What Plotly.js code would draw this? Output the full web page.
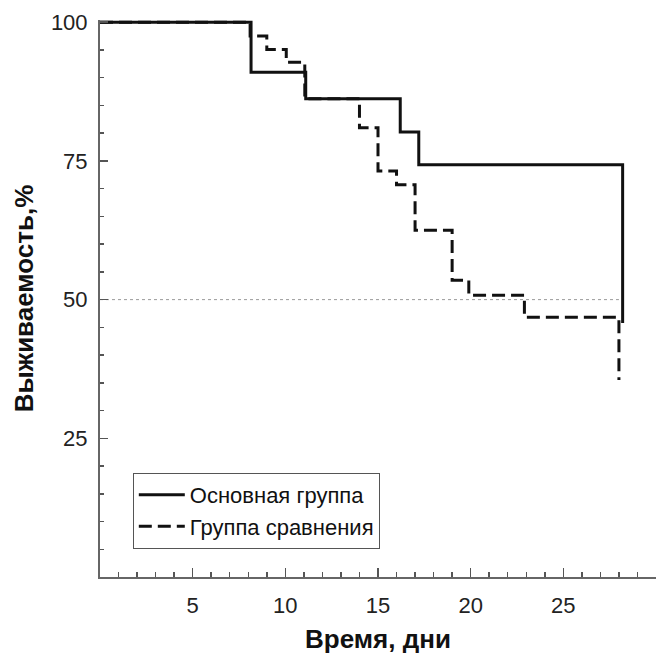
<!DOCTYPE html>
<html>
<head>
<meta charset="utf-8">
<script src="https://cdn.plot.ly/plotly-3.0.1.min.js"></script>
<style>html,body{margin:0;padding:0;background:#fff;}#chart{width:657px;height:656px;}</style>
</head>
<body>
<div id="chart"></div>
<script>
// Data (Kaplan-Meier style step curves)
const mainDays = [0, 8.15, 11.1, 16.2, 17.2, 28.2];
const mainSurv = [100, 91.0, 86.2, 80.2, 74.3, 45.8];
const compDays = [0, 8.1, 9.0, 10.05, 11.05, 14.0, 15.0, 16.0, 17.0, 19.0, 19.9, 22.9, 28.0];
const compSurv = [100, 97.5, 95.1, 92.8, 86.2, 81.0, 73.2, 70.7, 62.5, 53.5, 50.8, 46.8, 35.5];
const refDays = [0, 28];
const refSurv = [50, 50];
const xTickVals = [5, 10, 15, 20, 25];
const yTickVals = [25, 50, 75, 100];
const seriesNames = ['Основная группа', 'Группа сравнения'];

const traces = [
  {x: refDays, y: refSurv, mode: 'lines', line: {color: '#9a9a9a', width: 1, dash: 'dot'}, showlegend: false, hoverinfo: 'skip'},
  {x: compDays, y: compSurv, name: seriesNames[1], mode: 'lines', line: {shape: 'hv', color: '#111', width: 3, dash: '13px,6px'}},
  {x: mainDays, y: mainSurv, name: seriesNames[0], mode: 'lines', line: {shape: 'hv', color: '#111', width: 3}}
];

const tickFont = {family: 'Liberation Sans, Arial, sans-serif', size: 22, color: '#222'};
const layout = {
  width: 657, height: 656,
  margin: {l: 100, r: 1, t: 20, b: 79},
  paper_bgcolor: '#fff', plot_bgcolor: '#fff',
  showlegend: true,
  legend: {
    x: 0.059, y: 0.187, xanchor: 'left', yanchor: 'top',
    bordercolor: '#555', borderwidth: 1, bgcolor: '#fff',
    traceorder: 'reversed', itemwidth: 46,
    font: {family: 'Liberation Sans, Arial, sans-serif', size: 22, color: '#111'},
    tracegroupgap: 0
  },
  xaxis: {
    range: [0, 30], showgrid: false, zeroline: false,
    showline: true, linecolor: '#666', linewidth: 2,
    tickmode: 'array', tickvals: xTickVals,
    ticks: 'inside', ticklen: 9, tickwidth: 1.5, tickcolor: '#555',
    minor: {dtick: 1, tick0: 0, ticks: 'inside', ticklen: 5, tickwidth: 1.5, tickcolor: '#555', showgrid: false},
    tickfont: tickFont, ticklabelstandoff: 8,
    title: {text: 'Время, дни', font: {family: 'Liberation Sans, Arial, sans-serif', size: 26, color: '#111', weight: 'bold'}, standoff: 12},
    fixedrange: true
  },
  yaxis: {
    range: [0, 100.4], showgrid: false, zeroline: false,
    showline: true, linecolor: '#666', linewidth: 2,
    tickmode: 'array', tickvals: yTickVals,
    ticks: 'inside', ticklen: 8, tickwidth: 1.5, tickcolor: '#555',
    minor: {dtick: 5, tick0: 0, ticks: 'inside', ticklen: 4, tickwidth: 1.5, tickcolor: '#555', showgrid: false},
    tickfont: tickFont, ticklabelstandoff: 6,
    title: {text: 'Выживаемость,%', font: {family: 'Liberation Sans, Arial, sans-serif', size: 26, color: '#111', weight: 'bold'}, standoff: 10},
    fixedrange: true
  }
};

Plotly.newPlot('chart', traces, layout, {displayModeBar: false, staticPlot: true});
</script>
</body>
</html>
